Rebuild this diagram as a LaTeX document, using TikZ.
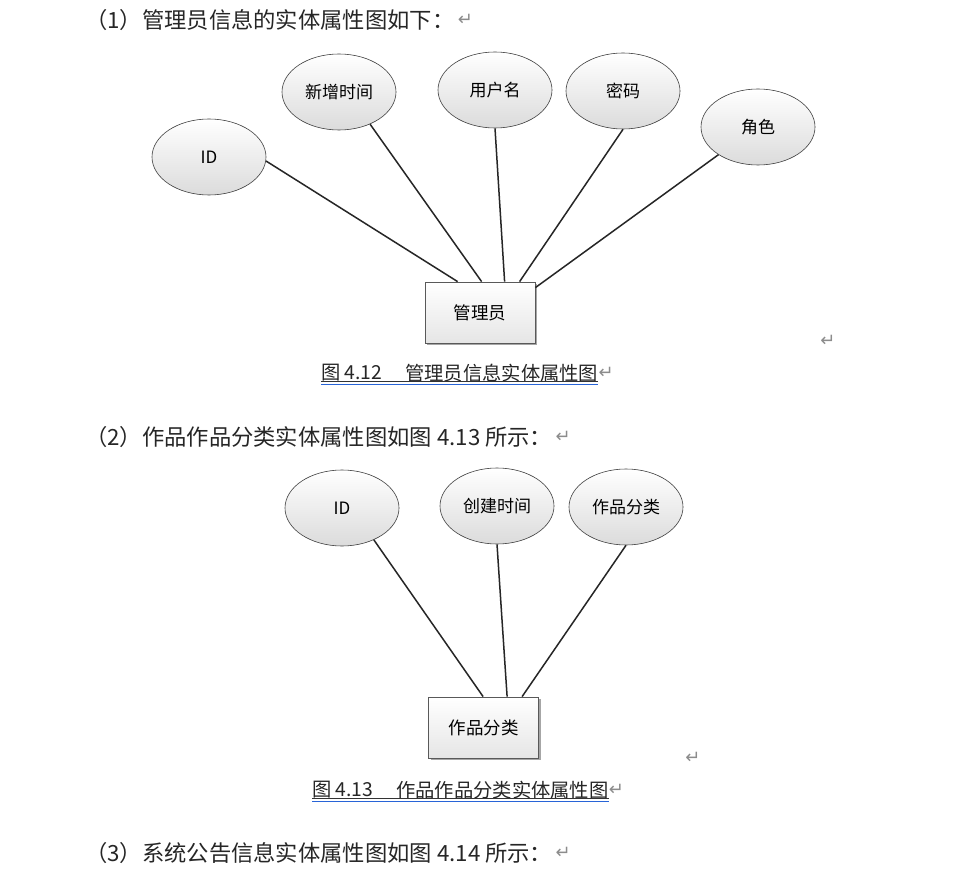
\documentclass[tikz,border=0pt]{standalone}
\usepackage{fontspec}
\newfontfamily\cjk{Noto Sans CJK SC}
\newfontfamily\djv{DejaVu Sans}
\usetikzlibrary{shapes.geometric,shadows,calc}
\definecolor{ulblue}{RGB}{40,100,215}
\tikzset{
  attr/.style={ellipse, draw=black!75, line width=0.6pt, top color=white, bottom color=black!14,
    minimum width=114pt, minimum height=76pt, inner sep=0pt, font=\cjk\fontsize{17}{19}\selectfont},
  ent/.style={rectangle, draw=black!65, line width=0.8pt, top color=white, bottom color=black!10,
    minimum width=110pt, minimum height=61pt, inner sep=0pt, font=\cjk\fontsize{17.5}{19}\selectfont,
    drop shadow={shadow xshift=2pt, shadow yshift=-2pt, fill=black!35, opacity=1}},
  link/.style={draw=black!85, line width=1.5pt},
  body/.style={anchor=west, inner sep=0pt, font=\cjk\fontsize{22.3}{24}\selectfont, text=black!85},
  capt/.style={anchor=west, inner sep=0pt, font=\cjk\fontsize{19.3}{22}\selectfont, text=black!85},
  ret/.style={inner sep=0pt, font=\djv\fontsize{18}{19}\selectfont, text=black!45},
}
\begin{document}
\begin{tikzpicture}[x=1pt,y=-1pt]
\useasboundingbox[fill=white] (0,0) rectangle (968,893);

% line 1
\node[body] (t1) at (85,20) {（1）管理员信息的实体属性图如下：};
\node[ret, anchor=west] (r1) at (t1.east) {\,↵};

% diagram 1
\node[attr] (a1) at (209,157) {ID};
\node[attr] (a2) at (339,92) {新增时间};
\node[attr] (a3) at (495,90) {用户名};
\node[attr] (a4) at (623,91) {密码};
\node[attr] (a5) at (758,127) {角色};
\node[ent] (m1) at (480,312.5) {管理员};

\draw[link] (a1.-4) -- ($(m1.north west)+(33,0)$);
\draw[link] (a2.-46) -- ($(m1.north west)+(57,0)$);
\draw[link] (a3.south) -- ($(m1.north west)+(80,0)$);
\draw[link] (a4.south) -- ($(m1.north west)+(95,0)$);
\draw[link] (a5.-145) -- ($(m1.north east)+(0,6)$);

\node[ret] (r2) at (828,341) {↵};

% caption 1
\node[capt] (c1a) at (321,373) {图 4.12};
\node[capt] (c1b) at (405,373) {管理员信息实体属性图};
\node[ret, anchor=west] (r3) at (c1b.east) {↵};
\coordinate (u1) at (0,381.5);
\coordinate (v1) at (0,384.5);
\draw[black!80, line width=0.7pt] (c1a.west |- u1) -- (c1b.east |- u1);
\draw[ulblue, line width=1.1pt] (c1a.west |- v1) -- (c1b.east |- v1);

% line 2
\node[body] (t2) at (85,437) {（2）作品作品分类实体属性图如图 4.13 所示：};
\node[ret, anchor=west] (r4) at (t2.east) {\,↵};

% diagram 2
\node[attr] (b1) at (342,508) {ID};
\node[attr] (b2) at (497,506) {创建时间};
\node[attr] (b3) at (626,507) {作品分类};
\node[ent] (m2) at (483.5,727.5) {作品分类};

\draw[link] (b1.-45) -- ($(m2.north west)+(55,0)$);
\draw[link] (b2.south) -- ($(m2.north west)+(79,0)$);
\draw[link] (b3.south) -- ($(m2.north west)+(94,0)$);

\node[ret] (r5) at (693,758) {↵};

% caption 2
\node[capt] (c2a) at (312,790) {图 4.13};
\node[capt] (c2b) at (396,790) {作品作品分类实体属性图};
\node[ret, anchor=west] (r6) at (c2b.east) {↵};
\coordinate (u2) at (0,798.5);
\coordinate (v2) at (0,801.5);
\draw[black!80, line width=0.7pt] (c2a.west |- u2) -- (c2b.east |- u2);
\draw[ulblue, line width=1.1pt] (c2a.west |- v2) -- (c2b.east |- v2);

% line 3
\node[body] (t3) at (85,853) {（3）系统公告信息实体属性图如图 4.14 所示：};
\node[ret, anchor=west] (r7) at (t3.east) {\,↵};
\end{tikzpicture}
\end{document}
